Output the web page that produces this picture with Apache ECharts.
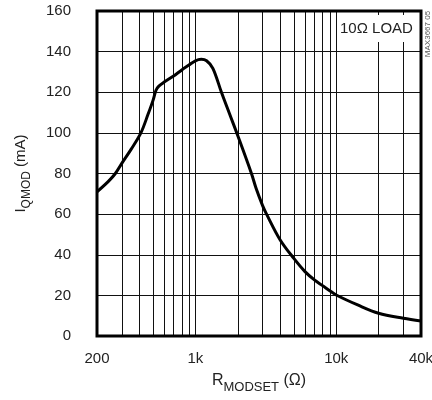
<!DOCTYPE html>
<html>
<head>
    <meta charset="UTF-8">
    <title>IQMOD vs RMODSET</title>
    <style>
        html, body { margin: 0; padding: 0; background: #fff; }
        #main { width: 432px; height: 400px; }
    </style>
</head>
<body>
<div id="main"></div>
<script src="https://cdn.jsdelivr.net/npm/echarts@6/dist/echarts.min.js"></script>
<script>
    // RMODSET (ohm) 和 IQMOD (mA)，从图上读出来的
    var rModset = [200, 240, 270, 300, 350, 410, 460, 500, 525, 550, 600, 700, 800, 900, 1000, 1100,
        1200, 1330, 1530, 1760, 2000, 2500, 2700, 3000, 3200, 4000, 5000, 6000, 7000, 8000, 9000,
        10000, 14200, 20000, 30000, 40000];
    var iQmod = [71, 76, 80, 85, 92, 100, 109, 116, 121, 123, 125, 128, 131, 133.4, 135.5, 136.2,
        135.5, 131.8, 120, 108.8, 98.6, 80, 72.6, 64.2, 60, 47.3, 38.2, 31.7, 27.6, 24.8, 22.3,
        20.2, 15.3, 11.2, 8.7, 7.4];
    // 网格线位置（对数坐标）
    var xGridTicks = [200, 300, 400, 500, 600, 700, 800, 900, 1000, 2000, 3000, 4000, 5000, 6000,
        7000, 8000, 9000, 10000, 20000, 30000, 40000];
    var xLabelTicks = [200, 1000, 10000, 40000];
    var yMin = 0, yMax = 160, yStep = 20;
    var loadText = '10\u03A9 LOAD';

    var points = [];
    for (var i = 0; i < rModset.length; i++) {
        points.push([rModset[i], iQmod[i]]);
    }

    var font = '"Liberation Sans", Arial, sans-serif';
    var myChart = echarts.init(document.getElementById('main'));
    var option = {
        animation: false,
        title: {
            text: loadText,
            left: 337,
            top: 15,
            backgroundColor: '#fff',
            padding: [6, 3, 6, 3],
            textStyle: {
                fontFamily: font,
                fontSize: 15,
                fontWeight: 'normal',
                color: '#222'
            }
        },
        grid: {
            left: 97,
            right: 11,
            top: 11,
            bottom: 64,
            outerBoundsMode: 'none',
            containLabel: false,
            show: true,
            borderColor: '#000',
            borderWidth: 3,
            z: 3
        },
        xAxis: {
            type: 'log',
            logBase: 10,
            min: 200,
            max: 40000,
            name: '{r|R}{s|MODSET}{r| (\u03A9)}',
            nameLocation: 'middle',
            nameGap: 37,
            nameTextStyle: {
                rich: {
                    r: {fontFamily: font, fontSize: 16, color: '#222', lineHeight: 21, verticalAlign: 'top'},
                    s: {fontFamily: font, fontSize: 13, color: '#222', lineHeight: 21, verticalAlign: 'bottom'}
                }
            },
            axisLine: {show: false},
            axisTick: {show: false, customValues: xGridTicks},
            axisLabel: {
                customValues: xLabelTicks,
                margin: 15,
                fontFamily: font,
                fontSize: 15,
                color: '#222',
                formatter: function (v) {
                    return v >= 1000 ? (v / 1000) + 'k' : String(v);
                }
            },
            splitLine: {
                show: true,
                lineStyle: {color: '#111', width: 1}
            }
        },
        yAxis: {
            type: 'value',
            min: yMin,
            max: yMax,
            interval: yStep,
            name: '{r|I}{s|QMOD}{r| (mA)}',
            nameLocation: 'middle',
            nameGap: 64,
            nameTextStyle: {
                rich: {
                    r: {fontFamily: font, fontSize: 15, color: '#222', lineHeight: 20, verticalAlign: 'top'},
                    s: {fontFamily: font, fontSize: 12, color: '#222', lineHeight: 20, verticalAlign: 'bottom'}
                }
            },
            axisLine: {show: false},
            axisTick: {show: false},
            axisLabel: {
                margin: 26,
                fontFamily: font,
                fontSize: 15,
                color: '#222'
            },
            splitLine: {
                show: true,
                lineStyle: {color: '#111', width: 1}
            }
        },
        graphic: [
            {
                type: 'text',
                x: 428,
                y: 34,
                rotation: Math.PI / 2,
                style: {
                    text: 'MAX3667 05',
                    fontFamily: font,
                    fontSize: 8,
                    fill: '#555',
                    textAlign: 'center',
                    textVerticalAlign: 'middle'
                }
            }
        ],
        series: [
            {
                type: 'line',
                data: points,
                smooth: 0.35,
                showSymbol: false,
                lineStyle: {color: '#000', width: 3},
                z: 4
            }
        ]
    };
    myChart.setOption(option);
</script>
</body>
</html>
